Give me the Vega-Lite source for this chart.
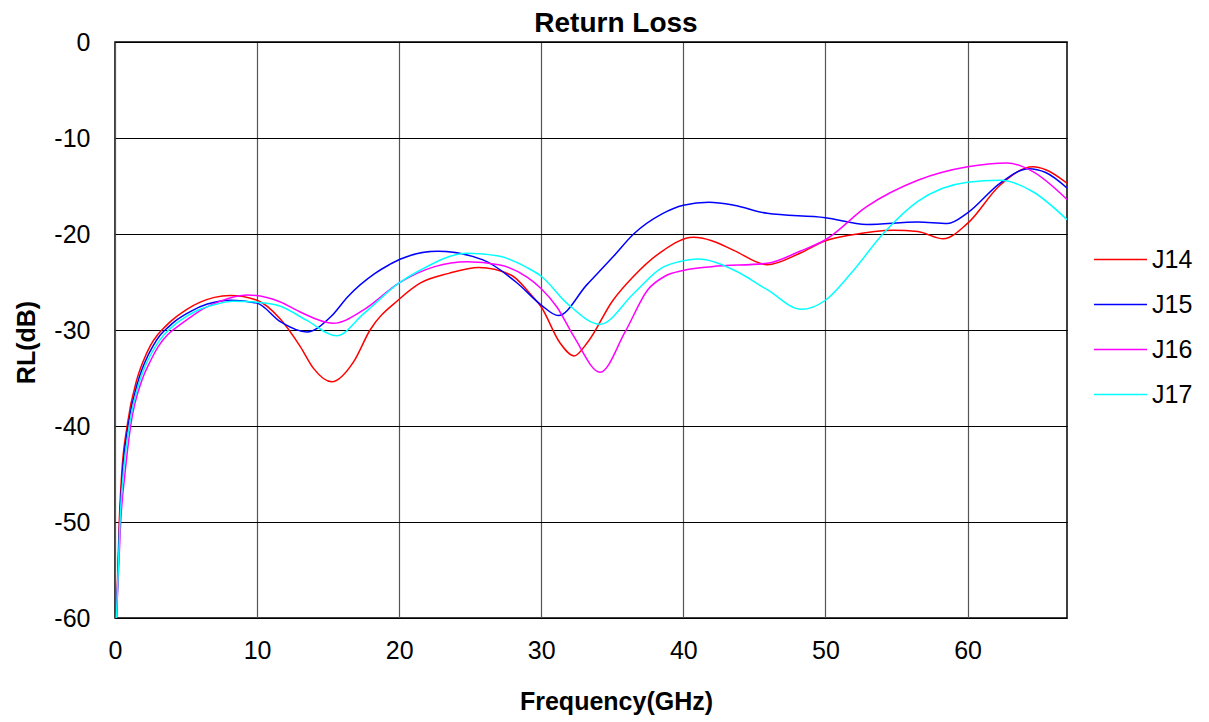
{
  "$schema": "https://vega.github.io/schema/vega-lite/v6.json",
  "width": 952,
  "height": 576,
  "autosize": {"type": "none"},
  "padding": {"left": 115, "top": 42, "right": 142, "bottom": 104},
  "background": "white",
  "config": {
    "font": "Liberation Sans",
    "view": {"stroke": "#000000", "strokeWidth": 1.5},
    "axis": {"labelFont": "Liberation Sans", "titleFont": "Liberation Sans"}
  },
  "title": {"text": "Return Loss", "fontSize": 28, "fontWeight": "bold", "font": "Liberation Sans", "color": "#000", "offset": 10, "dx": 25, "dy": 18},
  "data": {"values": [
    {"s":"J14","f":0.1,"v":-60},{"s":"J14","f":0.2,"v":-55},{"s":"J14","f":0.3,"v":-50},{"s":"J14","f":0.47,"v":-45},{"s":"J14","f":0.85,"v":-40},{"s":"J14","f":1.53,"v":-35.2},{"s":"J14","f":2.0,"v":-33.2},{"s":"J14","f":2.5,"v":-31.6},{"s":"J14","f":3.0,"v":-30.5},{"s":"J14","f":3.5,"v":-29.7},{"s":"J14","f":4.0,"v":-29.0},{"s":"J14","f":5.0,"v":-27.9},{"s":"J14","f":6.0,"v":-27.1},{"s":"J14","f":7.0,"v":-26.6},{"s":"J14","f":8.1,"v":-26.4},{"s":"J14","f":10,"v":-26.9},{"s":"J14","f":11.6,"v":-28.8},{"s":"J14","f":13.03,"v":-31.7},{"s":"J14","f":13.97,"v":-34.0},{"s":"J14","f":15.26,"v":-35.4},{"s":"J14","f":16.8,"v":-33.3},{"s":"J14","f":17.95,"v":-30},{"s":"J14","f":20,"v":-26.8},{"s":"J14","f":21.5,"v":-25.1},{"s":"J14","f":23.5,"v":-24.1},{"s":"J14","f":25.6,"v":-23.5},{"s":"J14","f":27.9,"v":-24.3},{"s":"J14","f":29.2,"v":-26.2},{"s":"J14","f":30,"v":-27.6},{"s":"J14","f":31.3,"v":-31.3},{"s":"J14","f":32.3,"v":-32.7},{"s":"J14","f":33.3,"v":-31.2},{"s":"J14","f":35,"v":-27},{"s":"J14","f":36.5,"v":-24.4},{"s":"J14","f":38.5,"v":-21.8},{"s":"J14","f":40.7,"v":-20.35},{"s":"J14","f":42,"v":-20.7},{"s":"J14","f":43.55,"v":-21.7},{"s":"J14","f":45.9,"v":-23.2},{"s":"J14","f":48.2,"v":-22},{"s":"J14","f":50,"v":-20.7},{"s":"J14","f":51.8,"v":-20.1},{"s":"J14","f":54.8,"v":-19.6},{"s":"J14","f":56.5,"v":-19.75},{"s":"J14","f":58.3,"v":-20.5},{"s":"J14","f":60,"v":-18.9},{"s":"J14","f":62.3,"v":-14.9},{"s":"J14","f":64.6,"v":-13.0},{"s":"J14","f":65.5,"v":-13.3},{"s":"J14","f":67,"v":-14.7},
    {"s":"J15","f":0.1,"v":-60},{"s":"J15","f":0.22,"v":-55},{"s":"J15","f":0.33,"v":-50},{"s":"J15","f":0.52,"v":-45},{"s":"J15","f":0.92,"v":-40},{"s":"J15","f":1.65,"v":-35.2},{"s":"J15","f":2.15,"v":-33.2},{"s":"J15","f":2.7,"v":-31.6},{"s":"J15","f":3.2,"v":-30.5},{"s":"J15","f":3.75,"v":-29.7},{"s":"J15","f":4.3,"v":-29.0},{"s":"J15","f":5.4,"v":-28.0},{"s":"J15","f":6.5,"v":-27.3},{"s":"J15","f":8.2,"v":-26.9},{"s":"J15","f":10,"v":-27.2},{"s":"J15","f":11.6,"v":-29.1},{"s":"J15","f":13.5,"v":-30.2},{"s":"J15","f":15.2,"v":-28.6},{"s":"J15","f":16.4,"v":-26.5},{"s":"J15","f":18.3,"v":-24.1},{"s":"J15","f":19.3,"v":-23.2},{"s":"J15","f":20.1,"v":-22.6},{"s":"J15","f":22.7,"v":-21.8},{"s":"J15","f":25.9,"v":-22.7},{"s":"J15","f":28.3,"v":-25.1},{"s":"J15","f":30,"v":-27.4},{"s":"J15","f":31.2,"v":-28.5},{"s":"J15","f":33.2,"v":-25.3},{"s":"J15","f":35.1,"v":-22.3},{"s":"J15","f":36.5,"v":-20},{"s":"J15","f":38.5,"v":-17.9},{"s":"J15","f":40,"v":-17.0},{"s":"J15","f":41.8,"v":-16.7},{"s":"J15","f":43.55,"v":-17.0},{"s":"J15","f":45.9,"v":-17.85},{"s":"J15","f":50,"v":-18.3},{"s":"J15","f":52.9,"v":-19.0},{"s":"J15","f":56.5,"v":-18.75},{"s":"J15","f":58.6,"v":-18.9},{"s":"J15","f":60,"v":-17.8},{"s":"J15","f":62.3,"v":-14.7},{"s":"J15","f":64.3,"v":-13.2},{"s":"J15","f":65.5,"v":-13.6},{"s":"J15","f":67,"v":-15.2},
    {"s":"J16","f":0.1,"v":-60},{"s":"J16","f":0.25,"v":-55},{"s":"J16","f":0.4,"v":-50},{"s":"J16","f":0.7,"v":-45},{"s":"J16","f":1.1,"v":-40},{"s":"J16","f":1.9,"v":-35.2},{"s":"J16","f":2.5,"v":-33.2},{"s":"J16","f":3.1,"v":-31.6},{"s":"J16","f":3.7,"v":-30.5},{"s":"J16","f":4.35,"v":-29.7},{"s":"J16","f":5.0,"v":-29.0},{"s":"J16","f":6.2,"v":-27.8},{"s":"J16","f":7.4,"v":-27.0},{"s":"J16","f":9.3,"v":-26.35},{"s":"J16","f":11.6,"v":-27.05},{"s":"J16","f":13,"v":-28.1},{"s":"J16","f":15.37,"v":-29.3},{"s":"J16","f":17.5,"v":-27.9},{"s":"J16","f":20,"v":-25.1},{"s":"J16","f":22.5,"v":-23.4},{"s":"J16","f":24.8,"v":-22.9},{"s":"J16","f":27,"v":-23.2},{"s":"J16","f":29,"v":-24.5},{"s":"J16","f":30,"v":-25.7},{"s":"J16","f":31.1,"v":-27.6},{"s":"J16","f":32.3,"v":-30.7},{"s":"J16","f":34.15,"v":-34.4},{"s":"J16","f":35.9,"v":-30.2},{"s":"J16","f":37.5,"v":-25.8},{"s":"J16","f":38.7,"v":-24.4},{"s":"J16","f":40,"v":-23.8},{"s":"J16","f":42,"v":-23.4},{"s":"J16","f":45.9,"v":-23.05},{"s":"J16","f":48.2,"v":-21.8},{"s":"J16","f":50,"v":-20.6},{"s":"J16","f":52.9,"v":-17.15},{"s":"J16","f":56.5,"v":-14.4},{"s":"J16","f":60,"v":-13.0},{"s":"J16","f":62.8,"v":-12.6},{"s":"J16","f":64.6,"v":-13.5},{"s":"J16","f":67,"v":-16.4},
    {"s":"J17","f":0.1,"v":-60},{"s":"J17","f":0.23,"v":-55},{"s":"J17","f":0.35,"v":-50},{"s":"J17","f":0.58,"v":-45},{"s":"J17","f":1.0,"v":-40},{"s":"J17","f":1.76,"v":-35.2},{"s":"J17","f":2.3,"v":-33.2},{"s":"J17","f":2.9,"v":-31.6},{"s":"J17","f":3.45,"v":-30.5},{"s":"J17","f":4.0,"v":-29.7},{"s":"J17","f":4.6,"v":-29.0},{"s":"J17","f":5.75,"v":-28.0},{"s":"J17","f":6.9,"v":-27.4},{"s":"J17","f":8.3,"v":-27.0},{"s":"J17","f":10,"v":-27.1},{"s":"J17","f":11.6,"v":-27.5},{"s":"J17","f":13.5,"v":-29.0},{"s":"J17","f":15.6,"v":-30.6},{"s":"J17","f":17.5,"v":-28.3},{"s":"J17","f":20,"v":-25.1},{"s":"J17","f":21.5,"v":-23.75},{"s":"J17","f":24.8,"v":-22.0},{"s":"J17","f":27,"v":-22.3},{"s":"J17","f":29,"v":-23.5},{"s":"J17","f":30,"v":-24.4},{"s":"J17","f":31.8,"v":-27.2},{"s":"J17","f":34.15,"v":-29.4},{"s":"J17","f":36.5,"v":-26.2},{"s":"J17","f":38.4,"v":-23.6},{"s":"J17","f":40,"v":-22.8},{"s":"J17","f":41,"v":-22.6},{"s":"J17","f":43.55,"v":-23.75},{"s":"J17","f":45.9,"v":-25.8},{"s":"J17","f":48.3,"v":-27.85},{"s":"J17","f":50,"v":-26.9},{"s":"J17","f":51.8,"v":-24.1},{"s":"J17","f":54.1,"v":-19.9},{"s":"J17","f":56.5,"v":-16.6},{"s":"J17","f":60,"v":-14.6},{"s":"J17","f":62.3,"v":-14.4},{"s":"J17","f":64.6,"v":-15.6},{"s":"J17","f":67,"v":-18.5}
  ]},
  "mark": {"type": "line", "interpolate": "monotone", "strokeWidth": 1.5, "clip": true},
  "encoding": {
    "x": {
      "field": "f", "type": "quantitative",
      "scale": {"domain": [0, 67], "nice": false, "zero": false},
      "axis": {
        "title": "Frequency(GHz)", "titleFontSize": 25, "titleFontWeight": "bold", "titleColor": "#000",
        "titleX": 501, "titleY": 91, "titleBaseline": "alphabetic",
        "values": [0, 10, 20, 30, 40, 50, 60], "labelFontSize": 25, "labelColor": "#000",
        "labelExpr": "'' + datum.value", "labelFlush": false,
        "labelPadding": 20, "ticks": false, "domain": false,
        "grid": true, "gridColor": "#555555", "gridWidth": 1.2, "gridOpacity": 1
      }
    },
    "y": {
      "field": "v", "type": "quantitative",
      "scale": {"domain": [-60, 0], "nice": false, "zero": false},
      "axis": {
        "title": "RL(dB)", "titleFontSize": 25, "titleFontWeight": "bold", "titleColor": "#000",
        "titleX": -81, "titleY": 300, "titleBaseline": "alphabetic",
        "values": [-60, -50, -40, -30, -20, -10, 0], "labelFontSize": 25, "labelColor": "#000",
        "labelExpr": "'' + datum.value", "labelFlush": false,
        "labelPadding": 25, "ticks": false, "domain": false,
        "grid": true, "gridColor": "#000000", "gridWidth": 1, "gridOpacity": 1
      }
    },
    "color": {
      "field": "s", "type": "nominal",
      "scale": {"domain": ["J14", "J15", "J16", "J17"], "range": ["#FF0000", "#0000FF", "#FF00FF", "#00FFFF"]},
      "legend": {
        "title": null, "orient": "none", "legendX": 978, "legendY": 190,
        "symbolType": "stroke", "symbolSize": 2809, "symbolStrokeWidth": 1.5,
        "labelFontSize": 25, "labelColor": "#000", "labelOffset": 4, "rowPadding": 4
      }
    }
  }
}
